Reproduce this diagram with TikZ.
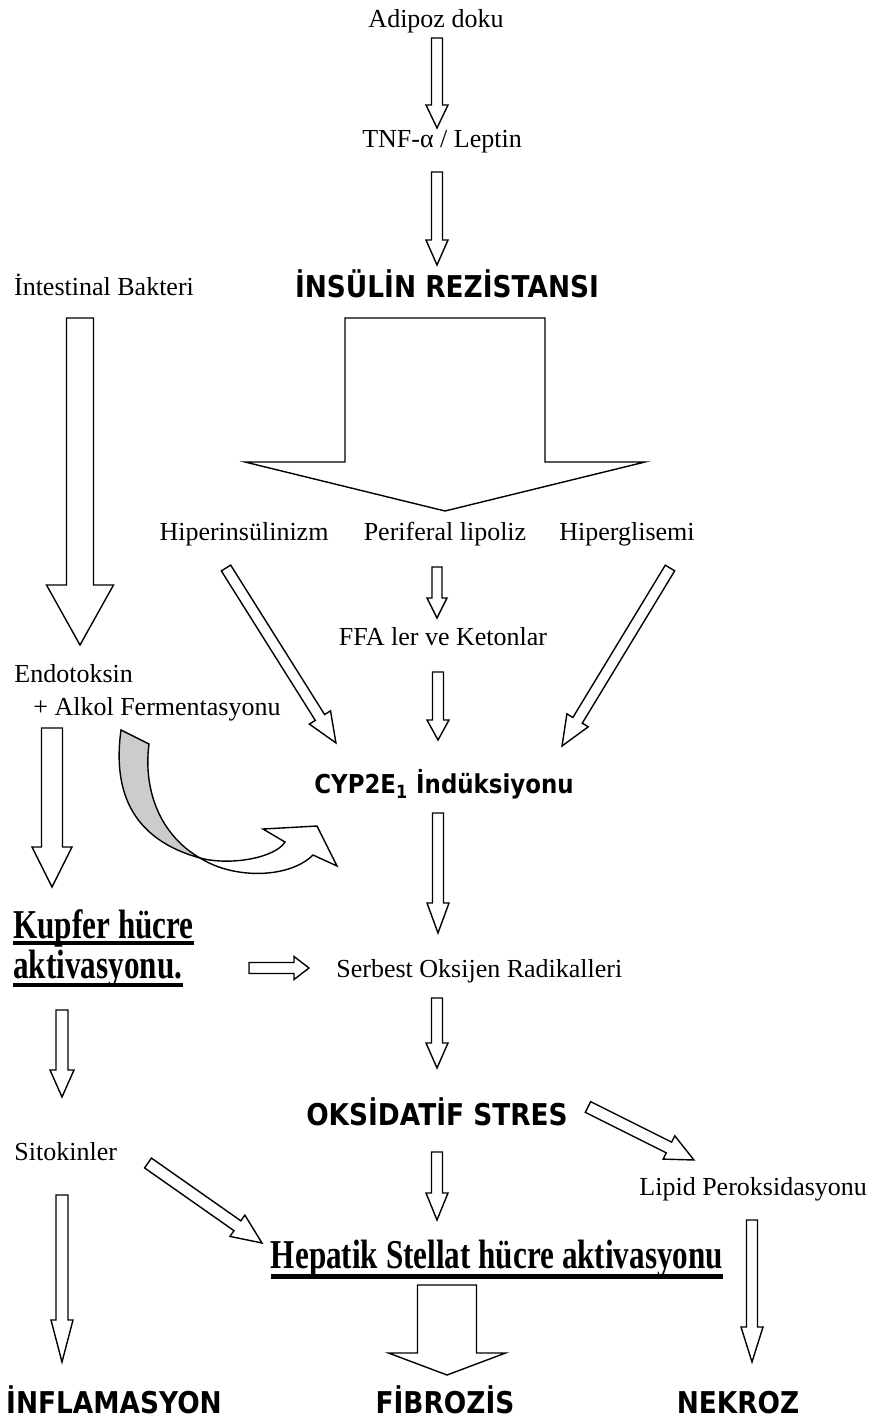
\documentclass[tikz,border=0pt]{standalone}
\usepackage{fontspec}
\setmainfont{Liberation Serif}
\newfontfamily\cmcfont{DejaVu Sans}[FakeStretch=0.88]
\newfontfamily\hdfont{Liberation Serif}[FakeStretch=0.76]
\usetikzlibrary{calc}

\tikzset{
  txt/.style={inner sep=0pt, font=\fontsize{13}{15}\selectfont},
  hd/.style={inner sep=0pt, font=\hdfont\bfseries\fontsize{20.5}{22}\selectfont},
  cmc/.style={inner sep=0pt, font=\cmcfont\bfseries\fontsize{15}{17}\selectfont},
  arr/.style={fill=white, line width=0.7pt, line join=miter},
  % hollow block arrow: shaft width, head width, head length (px)
  hollow/.style n args={3}{to path={
    let \p1=(\tikztostart), \p2=(\tikztotarget),
        \n1={atan2(\y2-\y1,\x2-\x1)}, \n2={veclen(\x2-\x1,\y2-\y1)},
        \n3={\n2-#3/2}
    in ([shift={(\p1)},rotate=\n1]0pt,#1/4*1pt)
    -- ([shift={(\p1)},rotate=\n1]\n3*1pt,#1/4*1pt)
    -- ([shift={(\p1)},rotate=\n1]\n3*1pt,#2/4*1pt)
    -- ([shift={(\p1)},rotate=\n1]\n2*1pt,0pt)
    -- ([shift={(\p1)},rotate=\n1]\n3*1pt,-#2/4*1pt)
    -- ([shift={(\p1)},rotate=\n1]\n3*1pt,-#1/4*1pt)
    -- ([shift={(\p1)},rotate=\n1]0pt,-#1/4*1pt) -- cycle}}
}

\begin{document}
\begin{tikzpicture}[x=0.5pt,y=-0.5pt]
\useasboundingbox (0,0) rectangle (874,1423);

\node[txt,anchor=base] (adipoz) at (436,28) {Adipoz doku};
\node[txt,anchor=base] (tnf) at (442,148) {TNF-α / Leptin};
\node[cmc,anchor=base] (insulin) at (447,297) {İNSÜLİN REZİSTANSI};
\node[txt,anchor=base] (bakteri) at (104,295) {İntestinal Bakteri};
\node[txt,anchor=base] (hiperins) at (244,540) {Hiperinsülinizm};
\node[txt,anchor=base] (lipoliz) at (445,540) {Periferal lipoliz};
\node[txt,anchor=base] (hipergl) at (627,540) {Hiperglisemi};
\node[txt,anchor=base] (ffa) at (443,645) {FFA ler ve Ketonlar};
\node[txt,anchor=base west] (endo) at (14,682) {Endotoksin};
\node[txt,anchor=base west] (alkol) at (33,715) {+ Alkol Fermentasyonu};
\node[cmc,anchor=base,font=\cmcfont\bfseries\fontsize{13}{15}\selectfont] (cyp) at (444,793) {CYP2E\textsubscript{1} İndüksiyonu};
\node[hd,anchor=base west] (kupfer1) at (13,938) {Kupfer hücre};
\node[hd,anchor=base west] (kupfer2) at (13,978) {aktivasyonu.};
\node[txt,anchor=base west] (serbest) at (336,977) {Serbest Oksijen Radikalleri};
\node[cmc,anchor=base] (oks) at (437,1125) {OKSİDATİF STRES};
\node[txt,anchor=base west] (sitokin) at (14,1160) {Sitokinler};
\node[txt,anchor=base west] (lipid) at (639,1195) {Lipid Peroksidasyonu};
\node[hd,anchor=base] (hepatik) at (497,1268) {Hepatik Stellat hücre aktivasyonu};
\node[cmc,anchor=base] (inflam) at (114,1413) {İNFLAMASYON};
\node[cmc,anchor=base] (fibroz) at (445,1413) {FİBROZİS};
\node[cmc,anchor=base] (nekroz) at (738,1413) {NEKROZ};

\draw[line width=1.8pt] ($(kupfer1.base west)+(0,5)$) -- ($(kupfer1.base east)+(0,5)$);
\draw[line width=2.4pt] ($(kupfer2.base west)+(0,7)$) -- ($(kupfer2.base east)+(0,7)$);
\draw[line width=2.5pt] ($(hepatik.base west)+(0,8)$) -- ($(hepatik.base east)+(0,8)$);

\draw[arr] ($(adipoz.base)+(1,10)$) to[hollow={11}{22}{23}] ($(tnf.base)+(-5,-20)$);
\draw[arr] ($(tnf.base)+(-5,24)$) to[hollow={11}{22}{25}] ($(insulin.base)+(-10,-32)$);
\draw[arr] ($(insulin.base)+(-2,21)$) to[hollow={200}{400}{49}] ($(lipoliz.base)+(0,-29)$);
\draw[arr] ($(bakteri.base)+(-24,23)$) to[hollow={27}{67}{60}] ($(endo.base west)+(66,-37)$);
\draw[arr] ($(lipoliz.base)+(-8,27)$) to[hollow={10}{20}{20}] ($(ffa.base)+(-6,-27)$);
\draw[arr] ($(ffa.base)+(-5,27)$) to[hollow={11}{22}{20}] ($(cyp.base)+(-6,-53)$);
\draw[arr] ($(hiperins.base)+(-18,28)$) to[hollow={11}{25}{30}] ($(cyp.base)+(-108,-50)$);
\draw[arr] ($(hipergl.base)+(43,28)$) to[hollow={11}{25}{30}] ($(cyp.base)+(118,-47)$);
\draw[arr] ($(alkol.base west)+(19,13)$) to[hollow={21}{40}{40}] ($(kupfer1.base west)+(39,-51)$);
\draw[arr] ($(cyp.base)+(-6,20)$) to[hollow={11}{22}{30}] ($(serbest.base west)+(102,-44)$);
\draw[arr] ($(kupfer2.base west)+(236,-10)$) to[hollow={11}{23}{15}] ($(serbest.base west)+(-27,-9)$);
\draw[arr] ($(serbest.base west)+(101,21)$) to[hollow={11}{22}{25}] ($(oks.base)+(0,-57)$);
\draw[arr] ($(kupfer2.base west)+(49,32)$) to[hollow={12}{24}{27}] ($(sitokin.base west)+(48,-63)$);
\draw[arr] ($(oks.base)+(151,-18)$) to[hollow={12}{26}{28}] ($(lipid.base west)+(55,-35)$);
\draw[arr] ($(sitokin.base west)+(134,3)$) to[hollow={12}{26}{30}] ($(hepatik.base)+(-235,-25)$);
\draw[arr] ($(oks.base)+(0,27)$) to[hollow={11}{22}{27}] ($(hepatik.base)+(-60,-48)$);
\draw[arr] ($(sitokin.base west)+(48,35)$) to[hollow={12}{22}{42}] ($(inflam.base)+(-52,-51)$);
\draw[arr] ($(hepatik.base)+(-50,17)$) to[hollow={59}{117}{22}] ($(fibroz.base)+(2,-38)$);
\draw[arr] ($(lipid.base west)+(113,25)$) to[hollow={11}{22}{35}] ($(nekroz.base)+(14,-51)$);

% twisted curved arrow
\draw[line width=0.7pt, fill=black!20] (121,730) .. controls (112,795) and (135,840) .. (200,858)
  .. controls (160,835) and (143,790) .. (149,744) -- cycle;
\draw[line width=0.7pt, fill=white] (200,858) .. controls (235,880) and (290,878) .. (313,855)
  -- (337,866) -- (317,826) -- (263,829) -- (285,842)
  .. controls (275,858) and (230,866) .. (200,858) -- cycle;
\end{tikzpicture}
\end{document}
